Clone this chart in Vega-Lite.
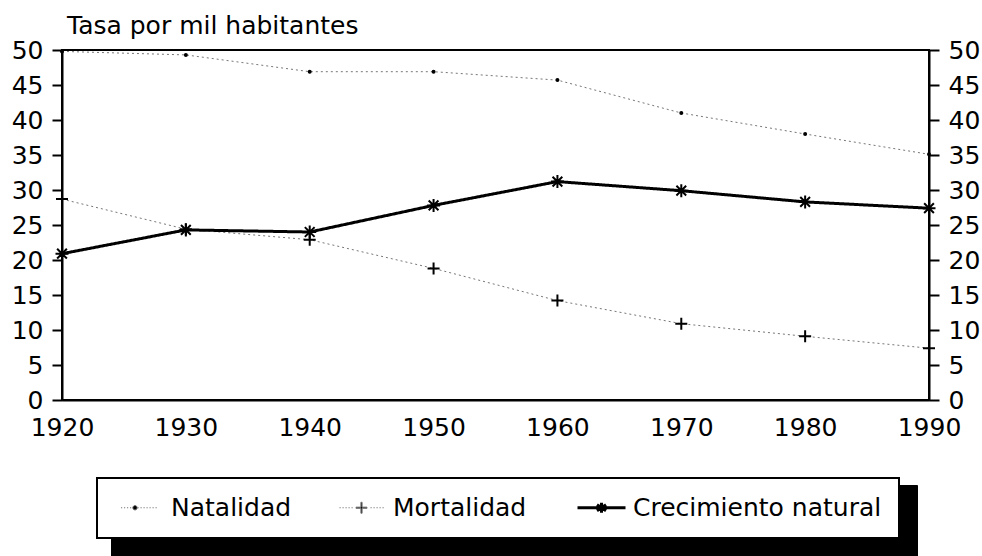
{
  "$schema": "https://vega.github.io/schema/vega-lite/v6.json",
  "width": 867,
  "height": 350,
  "autosize": {"type": "none"},
  "padding": {"left": 62, "top": 50, "right": 53, "bottom": 156},
  "background": "white",
  "config": {"font": "DejaVu Sans", "view": {"stroke": "black", "strokeWidth": 2}},
  "title": {"text": "Tasa por mil habitantes", "anchor": "start", "frame": "group", "fontSize": 25, "fontWeight": "normal", "font": "DejaVu Sans", "color": "black", "dx": 5, "offset": -1},
  "data": {"values": [
    {"anio": 1920, "serie": "Natalidad", "valor": 49.8},
    {"anio": 1930, "serie": "Natalidad", "valor": 49.3},
    {"anio": 1940, "serie": "Natalidad", "valor": 46.9},
    {"anio": 1950, "serie": "Natalidad", "valor": 46.9},
    {"anio": 1960, "serie": "Natalidad", "valor": 45.7},
    {"anio": 1970, "serie": "Natalidad", "valor": 41.0},
    {"anio": 1980, "serie": "Natalidad", "valor": 38.0},
    {"anio": 1990, "serie": "Natalidad", "valor": 35.1},
    {"anio": 1920, "serie": "Mortalidad", "valor": 28.7},
    {"anio": 1930, "serie": "Mortalidad", "valor": 24.4},
    {"anio": 1940, "serie": "Mortalidad", "valor": 22.9},
    {"anio": 1950, "serie": "Mortalidad", "valor": 18.8},
    {"anio": 1960, "serie": "Mortalidad", "valor": 14.2},
    {"anio": 1970, "serie": "Mortalidad", "valor": 10.9},
    {"anio": 1980, "serie": "Mortalidad", "valor": 9.1},
    {"anio": 1990, "serie": "Mortalidad", "valor": 7.4},
    {"anio": 1920, "serie": "Crecimiento natural", "valor": 20.9},
    {"anio": 1930, "serie": "Crecimiento natural", "valor": 24.3},
    {"anio": 1940, "serie": "Crecimiento natural", "valor": 24.0},
    {"anio": 1950, "serie": "Crecimiento natural", "valor": 27.8},
    {"anio": 1960, "serie": "Crecimiento natural", "valor": 31.2},
    {"anio": 1970, "serie": "Crecimiento natural", "valor": 29.9},
    {"anio": 1980, "serie": "Crecimiento natural", "valor": 28.3},
    {"anio": 1990, "serie": "Crecimiento natural", "valor": 27.4}
  ]},
  "layer": [
    {
      "mark": {"type": "line", "clip": false},
      "encoding": {
        "x": {"field": "anio", "type": "quantitative", "scale": {"domain": [1920, 1990], "nice": false, "zero": false},
          "axis": {"orient": "bottom", "values": [1920, 1930, 1940, 1950, 1960, 1970, 1980, 1990], "format": "d", "ticks": false, "domain": true, "domainWidth": 2, "domainColor": "black", "labelPadding": 15, "labelFlush": false, "labelOverlap": false, "grid": false, "title": null, "labelFont": "DejaVu Sans", "labelFontSize": 25, "labelColor": "black"}},
        "y": {"field": "valor", "type": "quantitative", "scale": {"domain": [0, 50], "nice": false},
          "axis": {"orient": "left", "values": [0, 5, 10, 15, 20, 25, 30, 35, 40, 45, 50], "grid": false, "domainColor": "black", "domainWidth": 2, "tickColor": "black", "tickWidth": 2, "tickSize": 10, "labelFont": "DejaVu Sans", "labelFontSize": 25, "labelColor": "black", "labelPadding": 9, "title": null, "labelFlush": false, "labelOverlap": false}},
        "color": {"field": "serie", "type": "nominal", "scale": {"domain": ["Natalidad", "Mortalidad", "Crecimiento natural"], "range": ["#777777", "#777777", "#000000"]},
          "legend": {"orient": "none", "legendX": 35, "legendY": 428, "direction": "horizontal", "title": null, "padding": 17, "fillColor": "white", "strokeColor": "black", "labelFont": "DejaVu Sans", "labelFontSize": 25, "labelColor": "black", "labelLimit": 400, "symbolSize": 400, "symbolOffset": 13, "labelOffset": 19, "columnPadding": 44, "zindex": 1,
            "encode": {
              "legend": {"update": {"strokeWidth": {"value": 2}}},
              "symbols": {"update": {
                "shape": {"signal": "datum.value === 'Natalidad' ? 'M-1.85,0h0.12M-1.55,0h0.12M-1.25,0h0.12M-0.95,0h0.12M-0.2,0h0.12M0.1,0h0.12M0.4,0h0.12M0.7,0h0.12M1,0h0.12M1.3,0h0.12M1.6,0h0.12M-0.67,0a0.22,0.22 0 1,0 0.44,0a0.22,0.22 0 1,0 -0.44,0' : datum.value === 'Mortalidad' ? 'M-2.2,0h0.12M-1.9,0h0.12M-1.6,0h0.12M-1.3,0h0.12M-1,0h0.12M0.9,0h0.12M1.2,0h0.12M1.5,0h0.12M1.8,0h0.12M2.1,0h0.12M-0.55,-0.06H-0.06V-0.55H0.06V-0.06H0.55V0.06H0.06V0.55H-0.06V0.06H-0.55Z' : 'M-2.4,0H2.4M0,-0.5V0.5M-0.45,-0.3L0.45,0.3M-0.45,0.3L0.45,-0.3'"},
                "strokeWidth": {"signal": "datum.value === 'Crecimiento natural' ? 3 : 1"},
                "fill": {"value": "black"},
                "stroke": {"value": "black"},
                "opacity": {"value": 1},
                "size": {"value": 400}
              }}
            }}},
        "strokeDash": {"field": "serie", "type": "nominal", "scale": {"domain": ["Natalidad", "Crecimiento natural", "Mortalidad"], "range": [[2, 3], [1, 0], [2, 3]]}, "legend": null},
        "strokeWidth": {"field": "serie", "type": "nominal", "scale": {"type": "ordinal", "domain": ["Crecimiento natural", "Natalidad", "Mortalidad"], "range": [3, 1, 1]}, "legend": null},
        "opacity": {"field": "serie", "type": "nominal", "scale": {"type": "ordinal", "domain": ["Crecimiento natural", "Mortalidad", "Natalidad"], "range": [1, 1, 1]},
          "legend": {"orient": "none", "legendX": 49, "legendY": 435, "direction": "horizontal", "title": null, "padding": 25, "fillColor": "black", "strokeColor": "black", "labelExpr": "''", "labelFontSize": 1, "symbolOpacity": 0, "symbolSize": 1300, "symbolOffset": 0, "labelOffset": 50, "columnPadding": 243, "zindex": 0}}
      }
    },
    {
      "mark": {"type": "point", "filled": true, "fill": "black", "stroke": "black", "strokeWidth": 2, "opacity": 1, "clip": false},
      "encoding": {
        "x": {"field": "anio", "type": "quantitative", "scale": {"domain": [1920, 1990], "nice": false, "zero": false},
          "axis": {"orient": "bottom", "values": [1920, 1930, 1940, 1950, 1960, 1970, 1980, 1990], "format": "d", "ticks": false, "domain": true, "domainWidth": 2, "domainColor": "black", "labelPadding": 15, "labelFlush": false, "labelOverlap": false, "grid": false, "title": null, "labelFont": "DejaVu Sans", "labelFontSize": 25, "labelColor": "black"}},
        "y": {"field": "valor", "type": "quantitative", "scale": {"domain": [0, 50], "nice": false},
          "axis": {"orient": "right", "values": [0, 5, 10, 15, 20, 25, 30, 35, 40, 45, 50], "grid": false, "domainColor": "black", "domainWidth": 2, "tickColor": "black", "tickWidth": 2, "tickSize": 10, "labelFont": "DejaVu Sans", "labelFontSize": 25, "labelColor": "black", "labelPadding": 9, "title": null, "labelFlush": false, "labelOverlap": false}},
        "shape": {"field": "serie", "type": "nominal", "scale": {"domain": ["Mortalidad", "Natalidad", "Crecimiento natural"], "range": ["M-1,0H1M0,-1V1", "circle", "M-1,0H1M0,-1V1M-0.75,-0.75L0.75,0.75M-0.75,0.75L0.75,-0.75"]}, "legend": null},
        "size": {"field": "serie", "type": "nominal", "scale": {"type": "ordinal", "domain": ["Mortalidad", "Crecimiento natural", "Natalidad"], "range": [144, 169, 4]}, "legend": null}
      }
    }
  ],
  "resolve": {"scale": {"y": "independent"}}
}
